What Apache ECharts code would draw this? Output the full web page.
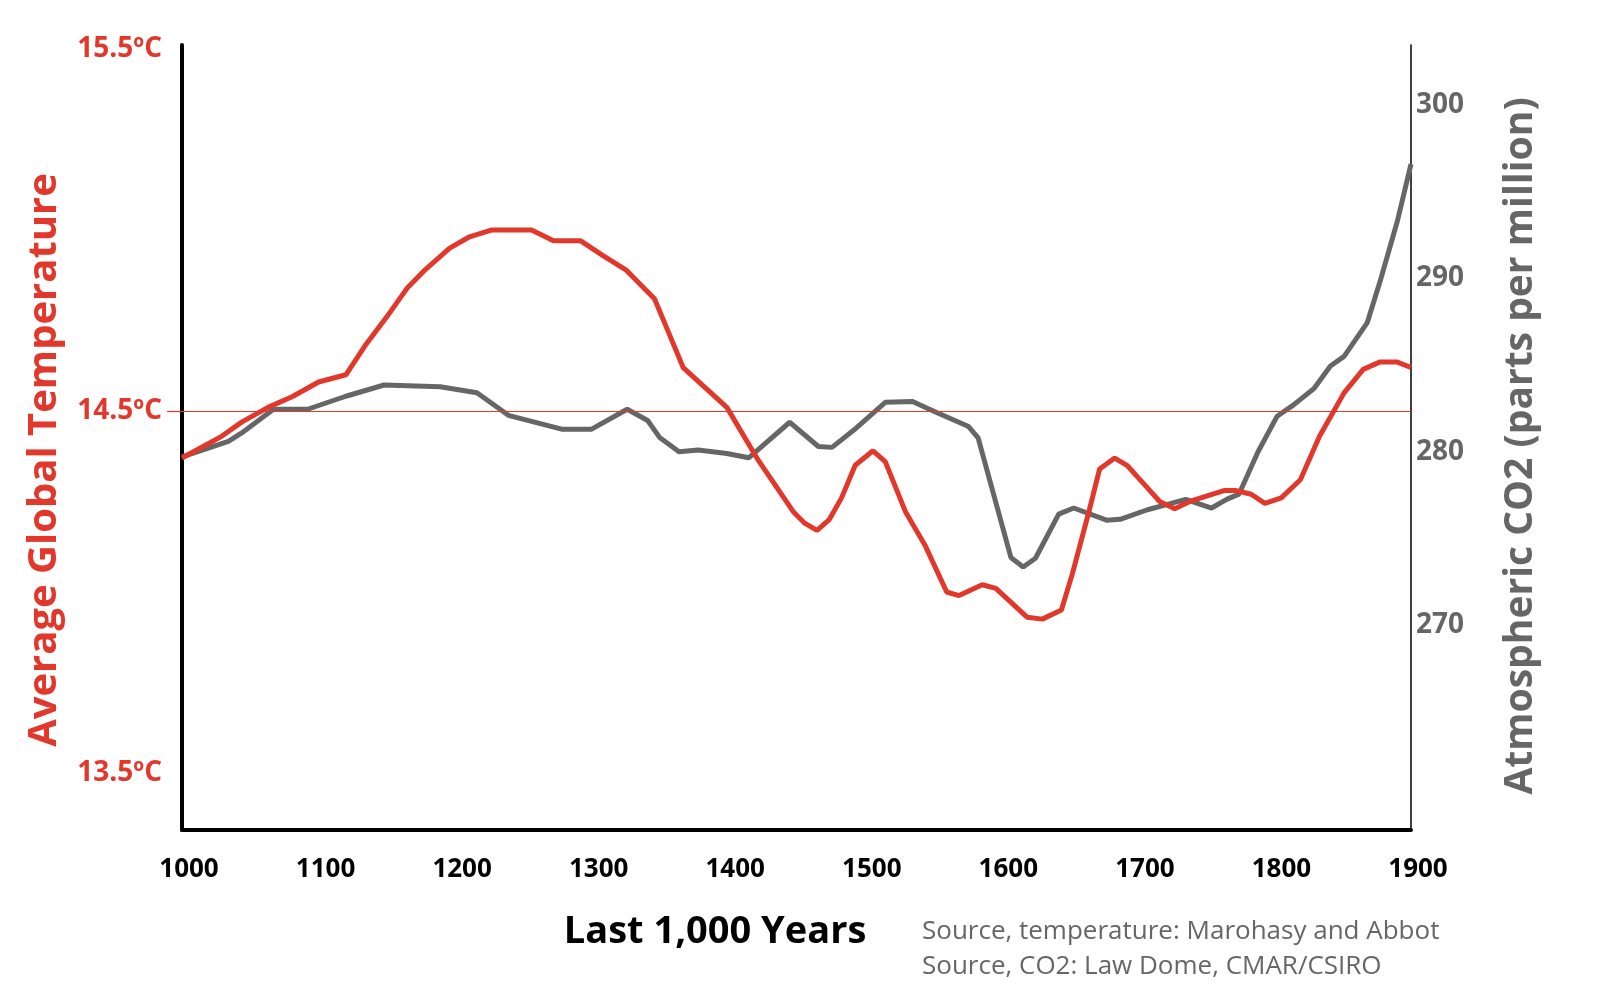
<!DOCTYPE html>
<html>
<head>
<meta charset="utf-8">
<title>Temperature and CO2, last 1,000 years</title>
<script src="https://cdn.jsdelivr.net/npm/echarts@6/dist/echarts.min.js"></script>
<style>
    html, body { margin: 0; padding: 0; background: #fff; }
    #chart { width: 1600px; height: 985px; }
</style>
</head>
<body>
<div id="chart"></div>
<script>
// temperature (Marohasy and Abbot)
var tempYears = [1000, 1029, 1044, 1063, 1081, 1100, 1120, 1134, 1150, 1165, 1178, 1196, 1210, 1227, 1256, 1272, 1292, 1308, 1325,
    1346, 1356, 1367, 1399, 1421, 1448, 1456, 1465, 1474, 1483, 1493, 1506, 1515, 1530, 1544, 1560, 1569, 1586, 1596,
    1619, 1630, 1644, 1652, 1664, 1672, 1683, 1692, 1704, 1716, 1727, 1738, 1763, 1772, 1783, 1793, 1805, 1819, 1833,
    1851, 1865, 1877, 1890, 1900];
var tempValues = [14.37, 14.43, 14.47, 14.51, 14.54, 14.58, 14.60, 14.68, 14.76, 14.84, 14.89, 14.95, 14.98, 15.00, 15.00, 14.97, 14.97, 14.93, 14.89,
    14.81, 14.72, 14.62, 14.51, 14.37, 14.22, 14.19, 14.17, 14.20, 14.26, 14.35, 14.39, 14.36, 14.22, 14.13, 14.00, 13.99, 14.02, 14.01,
    13.93, 13.925, 13.95, 14.05, 14.22, 14.34, 14.37, 14.35, 14.30, 14.25, 14.23, 14.25, 14.28, 14.28, 14.27, 14.245, 14.26, 14.31, 14.43,
    14.55, 14.615, 14.635, 14.635, 14.62];

// CO2 (Law Dome)
var co2Years = [1000, 1034, 1044, 1067, 1092, 1120, 1148, 1189, 1216, 1239, 1278, 1300, 1326, 1341, 1350, 1364, 1378, 1399, 1415,
    1445, 1466, 1476, 1492, 1515, 1535, 1553, 1576, 1583, 1607, 1616, 1625, 1642, 1653, 1677, 1687, 1707, 1719, 1735,
    1754, 1765, 1774, 1788, 1802, 1814, 1829, 1841, 1851, 1868, 1878, 1890, 1900];
var co2Values = [279.7, 280.6, 281.1, 282.45, 282.45, 283.2, 283.85, 283.75, 283.4, 282.1, 281.3, 281.3, 282.45, 281.8, 280.8, 280.0, 280.1, 279.9, 279.65,
    281.7, 280.3, 280.25, 281.25, 282.85, 282.9, 282.25, 281.45, 280.8, 273.9, 273.35, 273.85, 276.4, 276.75, 276.05, 276.1, 276.65, 276.9, 277.25,
    276.75, 277.25, 277.55, 280.0, 282.05, 282.7, 283.65, 284.95, 285.5, 287.45, 290.0, 293.3, 296.6];

var tempTicks = [13.5, 14.5, 15.5];
var co2Ticks = [270, 280, 290, 300];
var baseline = 14.5;

var RED = '#e2372b';
var GREY = '#666666';
var FONT = 'Open Sans';

function pairs(xs, ys) {
    var out = [];
    for (var i = 0; i < xs.length; i++) {
        out.push([xs[i], ys[i]]);
    }
    return out;
}

var chart = echarts.init(document.getElementById('chart'));
var option = {
    animation: false,
    backgroundColor: '#fff',
    grid: {
        left: 182,
        right: 189,
        top: 45,
        bottom: 155
    },
    xAxis: {
        type: 'value',
        min: 1000,
        max: 1900,
        interval: 100,
        axisLine: {lineStyle: {color: '#000', width: 4}},
        axisTick: {show: false},
        splitLine: {show: false},
        axisLabel: {
            color: '#000',
            fontFamily: FONT,
            fontWeight: 'bold',
            fontSize: 26,
            margin: 27,
            padding: [0, 0, 0, 14],
            formatter: function (v) {
                return String(v);
            }
        }
    },
    yAxis: [{
        type: 'value',
        position: 'left',
        min: 13.3425,
        max: 15.511,
        axisLine: {show: true, lineStyle: {color: '#000', width: 4}},
        axisTick: {
            show: true,
            customValues: [baseline],
            length: 15,
            lineStyle: {color: RED, width: 1.2}
        },
        splitLine: {show: false},
        axisLabel: {
            customValues: tempTicks,
            color: RED,
            fontFamily: FONT,
            fontWeight: 'bold',
            fontSize: 28,
            margin: 20,
            formatter: function (v) {
                return v.toFixed(1) + 'ºC';
            }
        }
    }, {
        type: 'value',
        position: 'right',
        min: 258.17,
        max: 303.47,
        axisLine: {show: true, lineStyle: {color: '#000', width: 1.5}},
        axisTick: {show: false},
        splitLine: {show: false},
        axisLabel: {
            customValues: co2Ticks,
            color: GREY,
            fontFamily: FONT,
            fontWeight: 'bold',
            fontSize: 28,
            margin: 5
        }
    }],
    series: [{
        name: 'CO2',
        type: 'line',
        yAxisIndex: 1,
        showSymbol: false,
        data: pairs(co2Years, co2Values),
        lineStyle: {color: GREY, width: 5},
        z: 2
    }, {
        name: 'Temperature',
        type: 'line',
        yAxisIndex: 0,
        showSymbol: false,
        data: pairs(tempYears, tempValues),
        lineStyle: {color: RED, width: 5},
        z: 3,
        markLine: {
            silent: true,
            symbol: 'none',
            label: {show: false},
            lineStyle: {color: RED, width: 1.2, type: 'solid'},
            data: [{yAxis: baseline}]
        }
    }],
    graphic: [{
        type: 'text',
        x: 45,
        y: 460,
        rotation: Math.PI / 2,
        style: {
            text: 'Average Global Temperature',
            fill: RED,
            font: 'bold 40px "Open Sans"',
            textAlign: 'center',
            textVerticalAlign: 'middle'
        }
    }, {
        type: 'text',
        x: 1521,
        y: 446,
        rotation: Math.PI / 2,
        style: {
            text: 'Atmospheric CO2 (parts per million)',
            fill: GREY,
            font: 'bold 39px "Open Sans"',
            textAlign: 'center',
            textVerticalAlign: 'middle'
        }
    }, {
        type: 'text',
        x: 715,
        y: 932,
        style: {
            text: 'Last 1,000 Years',
            fill: '#000',
            font: 'bold 38px "Open Sans"',
            textAlign: 'center',
            textVerticalAlign: 'middle'
        }
    }, {
        type: 'text',
        x: 922,
        y: 914,
        style: {
            text: 'Source, temperature: Marohasy and Abbot\nSource, CO2: Law Dome, CMAR/CSIRO',
            fill: GREY,
            font: '26px "Open Sans"',
            lineHeight: 35,
            textAlign: 'left',
            textVerticalAlign: 'top'
        }
    }]
};
chart.setOption(option);
</script>
</body>
</html>
